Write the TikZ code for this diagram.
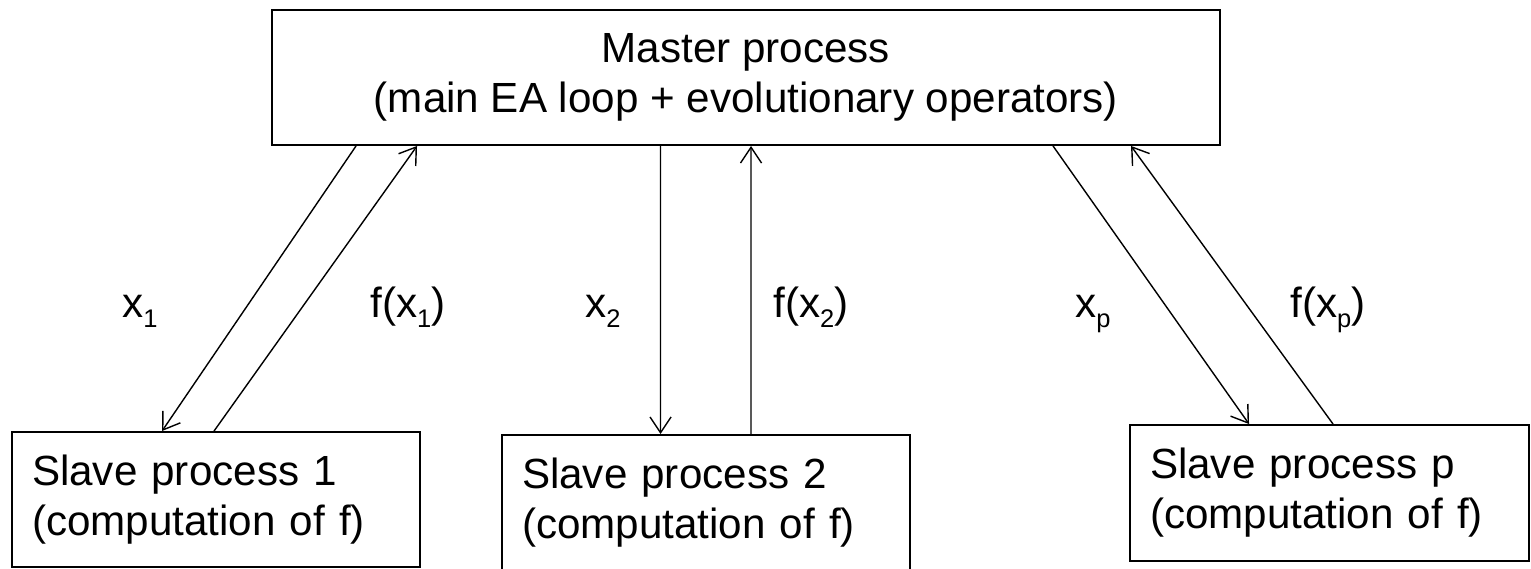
\documentclass[tikz,border=0pt]{standalone}
\usepackage{fontspec}
\setmainfont{Liberation Sans}
\usetikzlibrary{arrows.meta}
\newcommand{\msgsub}[1]{\raisebox{-0.24em}{\fontsize{14.5}{15}\selectfont #1}}

\tikzset{
	procbox/.style={draw=black, line width=1.1pt, minimum height=2.7cm, inner xsep=0.4cm, font=\fontsize{24}{28.5}\selectfont},
	msg/.style={-{Straight Barb[length=9pt, width=12pt]}, line width=0.8pt},
	lbl/.style={anchor=base west, inner sep=0pt, font=\fontsize{24}{28.5}\selectfont}
}

\begin{document}
\begin{tikzpicture}
	\useasboundingbox (0,0) rectangle (30.62,11.36);

	% master
	\node[procbox, minimum width=18.96cm, align=center] (master) at (14.92, 9.81) {Master process\\(main EA loop + evolutionary operators)};

	% slaves
	\node[procbox, minimum width=8.16cm, text width=7.36cm, align=left] (slave1) at (4.32, 1.37) {Slave process 1\\(computation of f)};
	\node[procbox, minimum width=8.16cm, text width=7.36cm, align=left] (slave2) at (14.12, 1.31) {Slave process 2\\(computation of f)};
	\node[procbox, minimum width=7.98cm, minimum height=2.72cm, text width=7.18cm, align=left] (slavep) at (26.59, 1.50) {Slave process p\\(computation of f)};

	% messages
	\draw[msg] ([xshift=1.70cm]master.south west) -- ([xshift=3.02cm]slave1.north west);
	\draw[msg] ([xshift=4.06cm]slave1.north west) -- ([xshift=2.92cm]master.south west);
	\draw[msg] ([xshift=7.79cm]master.south west) -- ([xshift=3.19cm]slave2.north west);
	\draw[msg] ([xshift=5.00cm]slave2.north west) -- ([xshift=9.60cm]master.south west);
	\draw[msg] ([xshift=15.64cm]master.south west) -- ([xshift=2.40cm]slavep.north west);
	\draw[msg] ([xshift=4.08cm]slavep.north west) -- ([xshift=17.20cm]master.south west);

	% labels
	\node[lbl] (lx1) at (2.44, 5.02) {x\msgsub{1}};
	\node[lbl] (lf1) at (7.40, 5.02) {f(x\msgsub{1})};
	\node[lbl] (lx2) at (11.70, 5.02) {x\msgsub{2}};
	\node[lbl] (lf2) at (15.46, 5.02) {f(x\msgsub{2})};
	\node[lbl] (lxp) at (21.50, 5.02) {x\msgsub{p}};
	\node[lbl] (lfp) at (25.80, 5.02) {f(x\msgsub{p})};
\end{tikzpicture}
\end{document}
